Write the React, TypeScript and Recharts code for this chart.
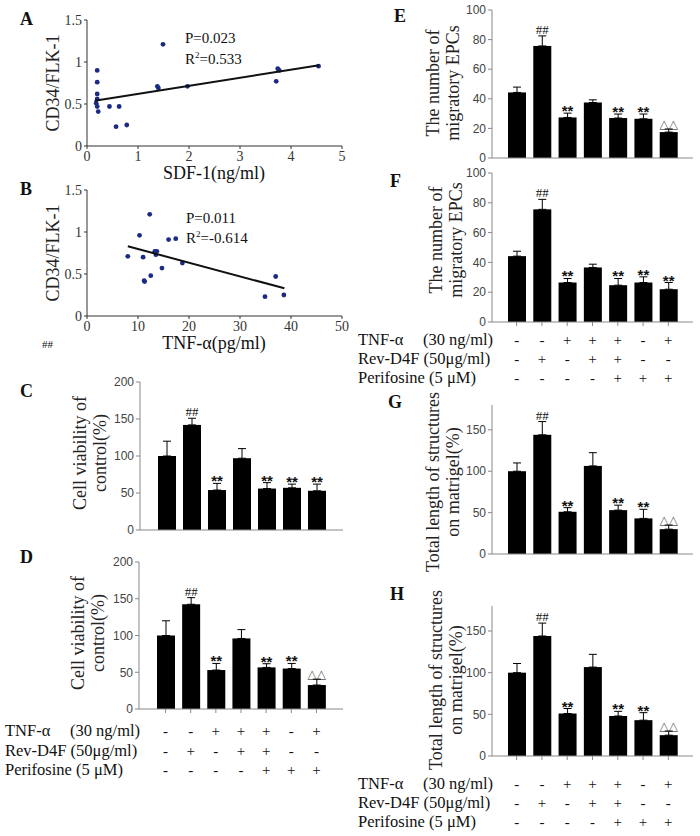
import React from 'react';
import { ScatterChart, Scatter, BarChart, Bar, ErrorBar, XAxis, YAxis } from 'recharts';

const SERIF = '"Liberation Serif", "Times New Roman", serif';
const SANS = '"Liberation Sans", Arial, sans-serif';

// A: CD34/FLK-1 against SDF-1
const sdfX = [0.2, 0.2, 0.2, 0.2, 0.18, 0.2, 0.22, 0.44, 0.63, 0.57, 0.78, 1.38, 1.4, 1.49, 1.97, 3.71, 3.74, 3.77, 4.54];
const sdfY = [0.9, 0.76, 0.62, 0.56, 0.51, 0.47, 0.41, 0.47, 0.47, 0.23, 0.25, 0.71, 0.69, 1.21, 0.71, 0.77, 0.92, 0.9, 0.95];
const sdfFitX = [0.15, 4.55];
const sdfFitY = [0.54, 0.96];

// B: CD34/FLK-1 against TNF-a
const tnfX = [8.0, 10.3, 11.0, 11.2, 11.3, 12.5, 12.3, 13.3, 13.7, 13.5, 14.7, 16.0, 17.4, 18.7, 34.9, 37.0, 38.6];
const tnfY = [0.71, 0.96, 0.7, 0.42, 0.41, 0.48, 1.21, 0.77, 0.77, 0.73, 0.57, 0.91, 0.92, 0.63, 0.23, 0.47, 0.25];
const tnfFitX = [8.0, 38.7];
const tnfFitY = [0.83, 0.33];

const scatterYTicks = [0, 0.5, 1, 1.5];

// treatment groups, shared by the bar panels
const groups = ['g1', 'g2', 'g3', 'g4', 'g5', 'g6', 'g7'];
const tnfRow = ['-', '-', '+', '+', '+', '-', '+'];
const revRow = ['-', '+', '-', '+', '+', '-', '-'];
const periRow = ['-', '-', '-', '-', '+', '+', '+'];

const cVals = [100, 142, 54, 97, 56, 57, 53];
const cErrs = [20, 9, 9, 13, 8, 5, 9];
const cMarks = ['', '##', '**', '', '**', '**', '**'];

const dVals = [100, 142.5, 53, 96, 56.6, 55, 32.6];
const dErrs = [20, 9, 9, 12, 5, 7, 8];
const dMarks = ['', '##', '**', '', '**', '**', '△△'];

const eVals = [44.3, 75.7, 27.4, 37.5, 27, 26.5, 17.5];
const eErrs = [3.6, 6.8, 2.9, 1.8, 2.7, 3.2, 2.1];
const eMarks = ['', '##', '**', '', '**', '**', '△△'];

const fVals = [44.2, 75.6, 26.5, 36.6, 24.7, 26.5, 22];
const fErrs = [3.3, 6.7, 2.7, 2.2, 4.5, 3.8, 4.5];
const fMarks = ['', '##', '**', '', '**', '**', '**'];

const gVals = [100, 144, 51, 106.4, 53, 43, 30];
const gErrs = [10, 16, 5, 16, 6, 11, 5];
const gMarks = ['', '##', '**', '', '**', '**', '△△'];

const hVals = [100, 144, 51, 106.7, 48, 43, 25];
const hErrs = [11, 15.5, 6, 15.3, 5.6, 9, 5];
const hMarks = ['', '##', '**', '', '**', '**', '△△'];

const dot = (p: any) => <circle cx={p.cx} cy={p.cy} r={2.4} fill="#1b2a85" />;
const noDot = () => <g />;

function ScatterPanel({ l, t, r, b, xs, ys, fitX, fitY, xMax, xTicks }: any) {
  const pts = xs.map((x: number, i: number) => ({ x, y: ys[i] }));
  const fit = fitX.map((x: number, i: number) => ({ x, y: fitY[i] }));
  const left = l - 50;
  const top = t - 10;
  const width = r - left + 10;
  const height = b - top + 26;
  const tickStyle = { fontSize: 14, fontFamily: SERIF, fill: '#333' };
  return (
    <div style={{ position: 'absolute', left, top }}>
      <ScatterChart width={width} height={height} margin={{ top: 10, right: 10, left: 10, bottom: 4 }}>
        <XAxis type="number" dataKey="x" domain={[0, xMax]} ticks={xTicks} height={22} tickSize={3}
          stroke="#333" tick={tickStyle} interval={0} />
        <YAxis type="number" dataKey="y" domain={[0, 1.5]} ticks={scatterYTicks} width={40} tickSize={3}
          stroke="#333" tick={tickStyle} interval={0} />
        <Scatter data={pts} shape={dot} isAnimationActive={false} />
        <Scatter data={fit} line={{ stroke: '#111', strokeWidth: 2 }} shape={noDot} isAnimationActive={false} />
      </ScatterChart>
    </div>
  );
}

const markFont = (m: string) => {
  if (m === '**') return { fontSize: 15, fontFamily: SANS, fontWeight: 700, dy: 3 };
  if (m === '##') return { fontSize: 13, fontFamily: SERIF, fontWeight: 400, dy: -2 };
  return { fontSize: 12, fontFamily: '"DejaVu Sans", sans-serif', fontWeight: 400, dy: -1 };
};

function BarPanel({ l, t, r, b, vals, errs, marks, max, ticks, pad, table }: any) {
  const data = groups.map((g, i) => ({ cat: g, v: vals[i], err: [0, errs[i]] }));
  const xh = table ? 80 : 10;
  const left = l - 50;
  const top = t - 10;
  const width = r - left + 10;
  const height = b - top + xh + 4;

  const shape = (p: any) => {
    const i = groups.indexOf(p.payload.cat);
    const ppu = p.height / vals[i];
    const errTop = p.y - errs[i] * ppu;
    const m = marks[i];
    const f = markFont(m);
    return (
      <g>
        <rect x={p.x} y={p.y} width={p.width} height={p.height} fill="#000" />
        {m ? (
          <text x={p.x + p.width / 2} y={errTop + f.dy} textAnchor="middle" fontSize={f.fontSize}
            fontFamily={f.fontFamily} fontWeight={f.fontWeight} fill={m === '△△' ? '#555' : '#111'}>{m}</text>
        ) : null}
      </g>
    );
  };

  const tableTick = (p: any) => {
    const i = groups.indexOf(p.payload.value);
    const axisY = p.y - 6;
    return (
      <g>
        {[tnfRow, revRow, periRow].map((row, k) => (
          <text key={k} x={p.x} y={axisY + table[k]} dy="0.35em" textAnchor="middle" fontSize={15}
            fontFamily={SERIF} fill="#111">{row[i]}</text>
        ))}
      </g>
    );
  };

  return (
    <div style={{ position: 'absolute', left, top }}>
      <BarChart width={width} height={height} data={data} margin={{ top: 10, right: 10, left: 10, bottom: 4 }}>
        <XAxis dataKey="cat" height={xh} padding={{ left: pad, right: pad }} interval={0} tickSize={4}
          stroke="#888" tick={table ? tableTick : false} />
        <XAxis xAxisId="box" orientation="top" type="number" domain={[0, 1]} height={0} tick={false}
          tickLine={false} stroke="#aaa" />
        <YAxis domain={[0, max]} ticks={ticks} width={40} tickSize={4} stroke="#888" interval={0}
          tick={{ fontSize: 12, fontFamily: SANS, fill: '#444' }} />
        <YAxis yAxisId="box" orientation="right" type="number" domain={[0, 1]} width={0} tick={false}
          tickLine={false} stroke="#aaa" />
        <Bar dataKey="v" barSize={18} shape={shape} isAnimationActive={false}>
          <ErrorBar dataKey="err" width={4} stroke="#000" strokeWidth={1} />
        </Bar>
      </BarChart>
    </div>
  );
}

const Txt = ({ x, y, size = 16.5, bold = false, children }: any) => (
  <div style={{ position: 'absolute', left: x, top: y - size * 0.6, fontSize: size, lineHeight: `${size * 1.2}px`,
    fontWeight: bold ? 700 : 400, whiteSpace: 'nowrap', fontFamily: SERIF, color: '#111' }}>{children}</div>
);

const CText = ({ x, y, size = 18, children }: any) => (
  <div style={{ position: 'absolute', left: x, top: y, transform: 'translate(-50%, -50%)', fontSize: size,
    whiteSpace: 'nowrap', fontFamily: SERIF, color: '#111' }}>{children}</div>
);

const VLabel = ({ x, y, lines, size = 18 }: any) => (
  <div style={{ position: 'absolute', left: x, top: y, transform: 'translate(-50%, -50%) rotate(-90deg)',
    fontSize: size, lineHeight: '20px', textAlign: 'center', whiteSpace: 'nowrap', fontFamily: SERIF, color: '#222' }}>
    {lines.map((s: string, i: number) => <div key={i}>{s}</div>)}
  </div>
);

const TableLabels = ({ x, rows }: any) => (
  <>
    <Txt x={x} y={rows[0]}>TNF-α</Txt>
    <Txt x={x + 65} y={rows[0]}>(30 ng/ml)</Txt>
    <Txt x={x} y={rows[1]}>Rev-D4F (50μg/ml)</Txt>
    <Txt x={x} y={rows[2]}>Perifosine (5 μM)</Txt>
  </>
);

const yTicks200 = [0, 50, 100, 150, 200];
const yTicks100 = [0, 20, 40, 60, 80, 100];
const yTicks180 = [0, 50, 100, 150];

export default function App() {
  return (
    <div style={{ position: 'absolute', left: 0, top: 0, width: 700, height: 836, background: '#fff', fontFamily: SERIF }}>
      <ScatterPanel l={87} t={20} r={342} b={146} xs={sdfX} ys={sdfY} fitX={sdfFitX} fitY={sdfFitY}
        xMax={5} xTicks={[0, 1, 2, 3, 4, 5]} />
      <ScatterPanel l={87} t={190} r={342} b={316} xs={tnfX} ys={tnfY} fitX={tnfFitX} fitY={tnfFitY}
        xMax={50} xTicks={[0, 10, 20, 30, 40, 50]} />

      <BarPanel l={140} t={382} r={343} b={530} vals={cVals} errs={cErrs} marks={cMarks} max={200}
        ticks={yTicks200} pad={14} />
      <BarPanel l={139} t={562} r={343} b={709} vals={dVals} errs={dErrs} marks={dMarks} max={200}
        ticks={yTicks200} pad={14} table={[22, 42, 61]} />
      <BarPanel l={492} t={10} r={693} b={158} vals={eVals} errs={eErrs} marks={eMarks} max={100}
        ticks={yTicks100} pad={12} />
      <BarPanel l={492} t={173} r={693} b={322} vals={fVals} errs={fErrs} marks={fMarks} max={100}
        ticks={yTicks100} pad={12} table={[18, 37, 56]} />
      <BarPanel l={492} t={405} r={693} b={554} vals={gVals} errs={gErrs} marks={gMarks} max={180}
        ticks={yTicks180} pad={12} />
      <BarPanel l={492} t={606} r={693} b={756} vals={hVals} errs={hErrs} marks={hMarks} max={180}
        ticks={yTicks180} pad={12} table={[28, 47, 66]} />

      <Txt x={20} y={20} size={18} bold>A</Txt>
      <Txt x={20} y={190} size={18} bold>B</Txt>
      <Txt x={20} y={392} size={18} bold>C</Txt>
      <Txt x={20} y={558} size={18} bold>D</Txt>
      <Txt x={394} y={17} size={18} bold>E</Txt>
      <Txt x={390} y={182} size={18} bold>F</Txt>
      <Txt x={388} y={403} size={18} bold>G</Txt>
      <Txt x={390} y={595} size={18} bold>H</Txt>

      <Txt x={185} y={38} size={15}>P=0.023</Txt>
      <Txt x={185} y={55} size={15}>R<sup style={{ fontSize: 9 }}>2</sup>=0.533</Txt>
      <Txt x={186} y={218} size={15}>P=0.011</Txt>
      <Txt x={186} y={234} size={15}>R<sup style={{ fontSize: 9 }}>2</sup>=-0.614</Txt>

      <CText x={214} y={173}>SDF-1(ng/ml)</CText>
      <CText x={214} y={343}>TNF-α(pg/ml)</CText>
      <Txt x={42} y={345} size={11}>##</Txt>

      <VLabel x={53} y={83} lines={['CD34/FLK-1']} />
      <VLabel x={53} y={253} lines={['CD34/FLK-1']} />
      <VLabel x={90} y={453} lines={['Cell viability of', 'control(%)']} />
      <VLabel x={88} y={633} lines={['Cell viability of', 'control(%)']} />
      <VLabel x={443} y={83} lines={['The number of', 'migratory EPCs']} />
      <VLabel x={446} y={240} lines={['The number of', 'migratory EPCs']} />
      <VLabel x={443} y={482} lines={['Total length of structures', 'on matrigel(%)']} />
      <VLabel x={446} y={680} lines={['Total length of structures', 'on matrigel(%)']} />

      <TableLabels x={5} rows={[731, 751, 770]} />
      <TableLabels x={358} rows={[340, 359, 378]} />
      <TableLabels x={358} rows={[784, 803, 822]} />
    </div>
  );
}
